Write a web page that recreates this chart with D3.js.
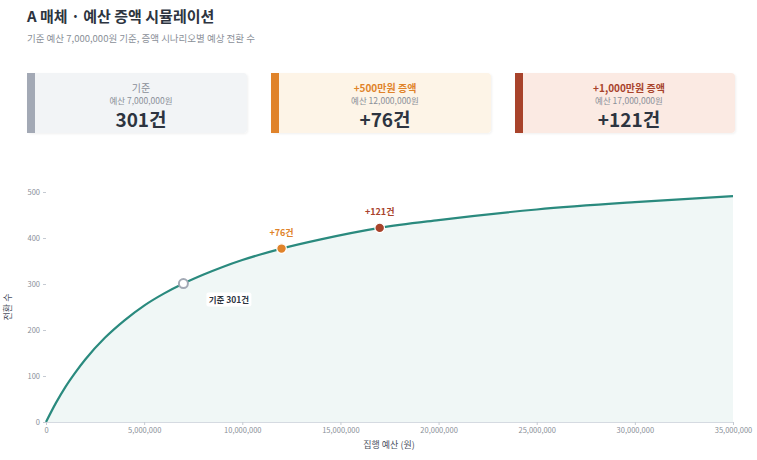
<!DOCTYPE html>
<html><head><meta charset="utf-8">
<script src="https://cdn.jsdelivr.net/npm/d3@7"></script>
<style>
body{margin:0;background:#fff;font-family:"Noto Sans CJK KR","Noto Sans",sans-serif;}
</style></head>
<body><svg id="c" width="757" height="460"></svg>
<script>
// budget (KRW) and expected conversions
const budgets = [0, 500000, 1000000, 1500000, 2000000, 3000000, 4000000, 5000000, 6000000, 7000000, 8000000, 9000000, 10000000, 12000000, 14000000, 17000000, 20000000, 25000000, 30000000, 35000000];
const conversions = [0, 41, 77, 108, 136, 183, 221, 253, 279, 301, 320, 337, 352, 377, 397, 422, 439, 462, 478, 491];
const scenarioNames = ["기준", "+500만원 증액", "+1,000만원 증액"];
const scenarioBudgets = [7000000, 12000000, 17000000];
const scenarioValues = [301, 377, 422];
const scenarioDeltas = ["301건", "+76건", "+121건"];
const xTicks = [0, 5000000, 10000000, 15000000, 20000000, 25000000, 30000000, 35000000];
const yTicks = [0, 100, 200, 300, 400, 500];

const barColors = ["#a3a9b5", "#e0832a", "#a8432b"];
const bgColors = ["#f2f4f6", "#fdf4e7", "#fbeae3"];
const labelColors = ["#8a8f98", "#e0832a", "#a8432b"];

const svg = d3.select("#c");
const fmt = d3.format(",");

svg.append("text").attr("x", 27).attr("y", 22).attr("font-size", 15).attr("font-weight", 700)
  .attr("fill", "#2d3440").text("A 매체 · 예산 증액 시뮬레이션");
svg.append("text").attr("x", 27).attr("y", 42).attr("font-size", 9.5)
  .attr("fill", "#8a8f98").text("기준 예산 7,000,000원 기준, 증액 시나리오별 예상 전환 수");

// cards
const defs = svg.append("defs");
const f = defs.append("filter").attr("id", "sh").attr("x", "-5%").attr("y", "-10%").attr("width", "110%").attr("height", "130%");
f.append("feDropShadow").attr("dx", 1).attr("dy", 1).attr("stdDeviation", 1.2).attr("flood-color", "#000").attr("flood-opacity", 0.06);

const cardW = 220, cardH = 60, cardY = 73;
scenarioNames.forEach((n, i) => {
  const x0 = 27 + i * 244;
  const g = svg.append("g");
  g.append("rect").attr("x", x0).attr("y", cardY).attr("width", cardW).attr("height", cardH)
    .attr("rx", 4).attr("fill", bgColors[i]).attr("filter", "url(#sh)");
  g.append("rect").attr("x", x0).attr("y", cardY).attr("width", 8).attr("height", cardH)
    .attr("fill", barColors[i]);
  const cx = x0 + 4 + cardW / 2;
  g.append("text").attr("x", cx).attr("y", cardY + 19).attr("text-anchor", "middle")
    .attr("font-size", 10).attr("font-weight", i === 0 ? 400 : 700).attr("fill", labelColors[i]).text(n);
  g.append("text").attr("x", cx).attr("y", cardY + 31).attr("text-anchor", "middle")
    .attr("font-size", 8.5).attr("fill", "#8a8f98").text("예산 " + fmt(scenarioBudgets[i]) + "원");
  g.append("text").attr("x", cx).attr("y", cardY + 54).attr("text-anchor", "middle")
    .attr("font-size", 19).attr("font-weight", 700).attr("fill", "#2d3440").text(scenarioDeltas[i]);
});

// chart
const x = d3.scaleLinear().domain([0, 35000000]).range([46, 733]);
const y = d3.scaleLinear().domain([0, 500]).range([422, 192]);
const data = budgets.map((b, i) => ({b, v: conversions[i]}));

svg.append("path").datum(data)
  .attr("d", d3.area().x(d => x(d.b)).y0(y(0)).y1(d => y(d.v)).curve(d3.curveMonotoneX))
  .attr("fill", "#2a8a7e").attr("fill-opacity", 0.07);
svg.append("path").datum(data)
  .attr("d", d3.line().x(d => x(d.b)).y(d => y(d.v)).curve(d3.curveMonotoneX))
  .attr("fill", "none").attr("stroke", "#2a8a7e").attr("stroke-width", 2.2);

const xa = svg.append("g").attr("transform", "translate(0,422)")
  .call(d3.axisBottom(x).tickValues(xTicks).tickFormat(fmt).tickSize(3).tickPadding(3));
xa.select(".domain").attr("stroke", "#d5dae1");
xa.selectAll(".tick line").attr("stroke", "#c5cad2");
xa.selectAll("text").attr("fill", "#8a8f98").attr("font-size", 7.5).attr("font-family", "Noto Sans CJK KR");

const ya = svg.append("g").attr("transform", "translate(46,0)")
  .call(d3.axisLeft(y).tickValues(yTicks).tickSize(3).tickPadding(3));
ya.select(".domain").remove();
ya.selectAll(".tick line").attr("stroke", "#c5cad2");
ya.selectAll("text").attr("fill", "#8a8f98").attr("font-size", 7.5).attr("font-family", "Noto Sans CJK KR");

svg.append("text").attr("x", 389).attr("y", 448).attr("text-anchor", "middle")
  .attr("font-size", 9).attr("fill", "#4a5060").text("집행 예산 (원)");
svg.append("text").attr("transform", "translate(11,307) rotate(-90)").attr("text-anchor", "middle")
  .attr("font-size", 9).attr("fill", "#4a5060").text("전환 수");

// scenario points
// base
const bx = x(scenarioBudgets[0]), by = y(scenarioValues[0]);
svg.append("circle").attr("cx", bx).attr("cy", by).attr("r", 4.5)
  .attr("fill", "#fff").attr("stroke", "#a3a9b5").attr("stroke-width", 2);
const bl = svg.append("g");
bl.append("rect").attr("x", bx + 23).attr("y", by + 9).attr("width", 45).attr("height", 14).attr("rx", 2).attr("fill", "#fff");
bl.append("text").attr("x", bx + 45.5).attr("y", by + 19.5).attr("text-anchor", "middle")
  .attr("font-size", 8.5).attr("font-weight", 700).attr("fill", "#2d3440").text("기준 " + scenarioDeltas[0]);

[1, 2].forEach(i => {
  const px = x(scenarioBudgets[i]), py = y(scenarioValues[i]);
  svg.append("circle").attr("cx", px).attr("cy", py).attr("r", 4.8)
    .attr("fill", barColors[i]).attr("stroke", "#fff").attr("stroke-width", 1.2);
  svg.append("text").attr("x", px).attr("y", py - 13).attr("text-anchor", "middle")
    .attr("font-size", 9).attr("font-weight", 700).attr("fill", barColors[i]).text(scenarioDeltas[i]);
});
</script></body></html>
